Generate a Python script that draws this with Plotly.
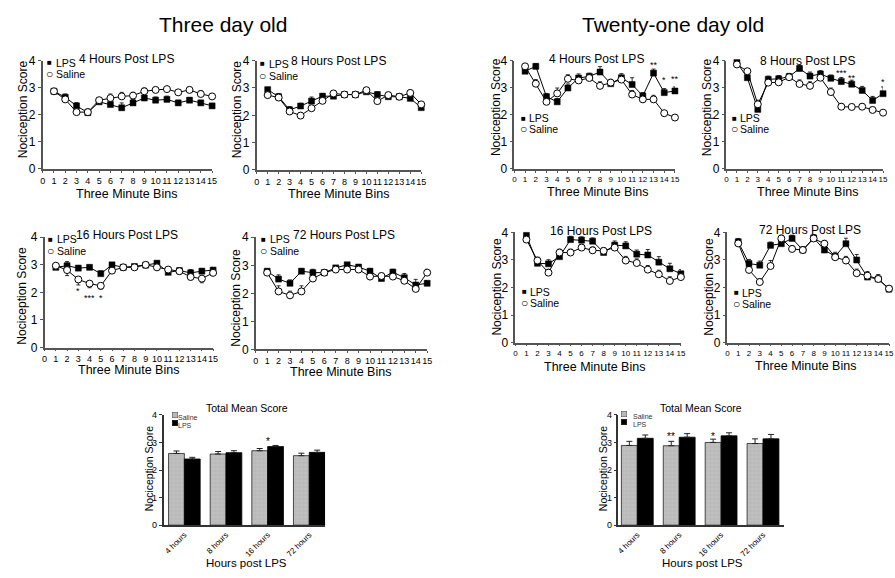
import plotly.graph_objects as go

W, H = 895, 578
FONT = "Liberation Sans, Arial, sans-serif"

bins = list(range(1, 16))

# ---------- Three day old ----------
d3_4h_lps = [2.87, 2.65, 2.33, 2.08, 2.48, 2.38, 2.26, 2.44, 2.62, 2.54, 2.57, 2.44, 2.54, 2.44, 2.33]
d3_4h_sal = [2.87, 2.57, 2.10, 2.10, 2.54, 2.62, 2.68, 2.71, 2.87, 2.92, 2.95, 2.83, 2.92, 2.77, 2.68]
e3_4h_lps = [0.05, 0.12, 0.12, 0.10, 0.08, 0.12, 0.18, 0.12, 0.10, 0.12, 0.12, 0.10, 0.10, 0.10, 0.08]
e3_4h_sal = [0.05, 0.10, 0.10, 0.12, 0.10, 0.15, 0.15, 0.12, 0.12, 0.10, 0.08, 0.10, 0.10, 0.12, 0.10]

d3_8h_lps = [2.94, 2.68, 2.20, 2.34, 2.52, 2.70, 2.70, 2.76, 2.76, 2.86, 2.76, 2.68, 2.68, 2.62, 2.28]
d3_8h_sal = [2.74, 2.65, 2.14, 1.99, 2.26, 2.53, 2.80, 2.76, 2.76, 2.92, 2.52, 2.74, 2.68, 2.82, 2.40]
e3_8h_lps = [0.08, 0.12, 0.12, 0.10, 0.15, 0.10, 0.10, 0.08, 0.08, 0.08, 0.10, 0.10, 0.10, 0.10, 0.10]
e3_8h_sal = [0.08, 0.10, 0.10, 0.10, 0.10, 0.10, 0.08, 0.08, 0.08, 0.08, 0.10, 0.10, 0.10, 0.10, 0.10]

d3_16h_lps = [2.91, 2.97, 2.88, 2.91, 2.68, 3.00, 2.91, 2.94, 2.99, 3.06, 2.73, 2.79, 2.71, 2.77, 2.81]
d3_16h_sal = [2.97, 2.81, 2.47, 2.32, 2.24, 2.79, 2.91, 2.91, 3.00, 2.91, 2.83, 2.77, 2.56, 2.50, 2.71]
e3_16h_lps = [0.08, 0.15, 0.10, 0.08, 0.10, 0.08, 0.08, 0.08, 0.08, 0.08, 0.10, 0.10, 0.12, 0.10, 0.10]
e3_16h_sal = [0.08, 0.20, 0.20, 0.15, 0.12, 0.10, 0.08, 0.08, 0.08, 0.08, 0.10, 0.10, 0.10, 0.15, 0.10]

d3_72h_lps = [2.79, 2.51, 2.36, 2.79, 2.74, 2.74, 2.91, 3.02, 2.94, 2.79, 2.53, 2.76, 2.56, 2.30, 2.36]
d3_72h_sal = [2.74, 2.07, 1.93, 2.07, 2.53, 2.74, 2.85, 2.85, 2.85, 2.60, 2.62, 2.60, 2.45, 2.16, 2.74]
e3_72h_lps = [0.08, 0.15, 0.12, 0.10, 0.12, 0.10, 0.08, 0.08, 0.08, 0.10, 0.10, 0.10, 0.15, 0.20, 0.10]
e3_72h_sal = [0.08, 0.20, 0.15, 0.20, 0.12, 0.10, 0.08, 0.08, 0.08, 0.10, 0.10, 0.10, 0.10, 0.10, 0.12]

# ---------- Twenty-one day old ----------
d21_4h_lps = [3.61, 3.79, 2.67, 2.48, 2.99, 3.36, 3.42, 3.58, 3.15, 3.37, 3.12, 2.70, 3.54, 2.82, 2.88]
d21_4h_sal = [3.79, 3.15, 2.48, 2.79, 3.33, 3.27, 3.36, 3.07, 3.19, 3.30, 2.75, 2.57, 2.57, 2.06, 1.90]
e21_4h_lps = [0.10, 0.10, 0.12, 0.12, 0.15, 0.15, 0.12, 0.20, 0.12, 0.15, 0.25, 0.12, 0.15, 0.15, 0.15]
e21_4h_sal = [0.08, 0.15, 0.15, 0.20, 0.15, 0.12, 0.12, 0.15, 0.12, 0.12, 0.15, 0.12, 0.15, 0.10, 0.10]

d21_8h_lps = [3.93, 3.37, 2.20, 3.31, 3.33, 3.41, 3.71, 3.43, 3.51, 3.35, 3.23, 3.13, 2.90, 2.53, 2.78]
d21_8h_sal = [3.86, 3.61, 2.39, 3.19, 3.20, 3.39, 3.14, 3.07, 3.37, 2.84, 2.30, 2.29, 2.30, 2.18, 2.08]
e21_8h_lps = [0.08, 0.12, 0.12, 0.12, 0.12, 0.12, 0.12, 0.15, 0.12, 0.12, 0.15, 0.15, 0.15, 0.15, 0.25]
e21_8h_sal = [0.08, 0.10, 0.15, 0.12, 0.12, 0.12, 0.15, 0.15, 0.12, 0.15, 0.12, 0.10, 0.10, 0.10, 0.08]

d21_16h_lps = [3.89, 2.88, 2.86, 3.12, 3.74, 3.72, 3.68, 3.27, 3.54, 3.51, 3.21, 3.18, 2.92, 2.68, 2.50]
d21_16h_sal = [3.74, 2.98, 2.54, 3.27, 3.27, 3.45, 3.35, 3.33, 3.45, 2.98, 2.89, 2.65, 2.48, 2.24, 2.38]
e21_16h_lps = [0.08, 0.15, 0.15, 0.12, 0.12, 0.12, 0.12, 0.12, 0.15, 0.15, 0.15, 0.20, 0.20, 0.20, 0.15]
e21_16h_sal = [0.08, 0.12, 0.12, 0.12, 0.12, 0.12, 0.12, 0.12, 0.12, 0.15, 0.15, 0.15, 0.15, 0.15, 0.12]

d21_72h_lps = [3.66, 2.87, 2.81, 3.53, 3.59, 3.78, 3.36, 3.80, 3.36, 3.13, 3.59, 3.00, 2.38, 2.31, 1.94]
d21_72h_sal = [3.60, 2.64, 2.20, 2.78, 3.78, 3.40, 3.36, 3.78, 3.59, 3.10, 2.98, 2.52, 2.43, 2.31, 1.96]
e21_72h_lps = [0.12, 0.15, 0.15, 0.12, 0.12, 0.12, 0.12, 0.12, 0.15, 0.15, 0.20, 0.20, 0.15, 0.15, 0.10]
e21_72h_sal = [0.10, 0.12, 0.12, 0.20, 0.12, 0.12, 0.12, 0.12, 0.12, 0.12, 0.15, 0.15, 0.15, 0.15, 0.10]

# ---------- Total mean score bars ----------
bar_cats = ["4 hours", "8 hours", "16 hours", "72 hours"]
d3_bar_sal = [2.60, 2.58, 2.70, 2.52]
d3_bar_sal_err = [0.09, 0.09, 0.08, 0.09]
d3_bar_lps = [2.40, 2.63, 2.85, 2.64]
d3_bar_lps_err = [0.06, 0.07, 0.04, 0.08]
d21_bar_sal = [2.89, 2.88, 3.00, 2.96]
d21_bar_sal_err = [0.15, 0.16, 0.12, 0.17]
d21_bar_lps = [3.15, 3.19, 3.24, 3.13]
d21_bar_lps_err = [0.12, 0.13, 0.11, 0.16]

# ---------- layout helpers (pixel -> paper) ----------
def px(x):
    return x / W

def py(y):
    return 1 - y / H

panels = [
    dict(title="4 Hours Post LPS", lps=d3_4h_lps, sal=d3_4h_sal, el=e3_4h_lps, es=e3_4h_sal, sal_down=False,
         box=(40, 211, 55, 166), t=(125, 53), xt=(125, 192), yt=(21, 105), leg=(47, 57, 69), tf=9),
    dict(title="8 Hours Post LPS", lps=d3_8h_lps, sal=d3_8h_sal, el=e3_8h_lps, es=e3_8h_sal, sal_down=False,
         box=(256, 422, 55, 167), t=(339, 55), xt=(339, 192), yt=(237, 105), leg=(262, 58, 71), tf=9),
    dict(title="16 Hours Post LPS", lps=d3_16h_lps, sal=d3_16h_sal, el=e3_16h_lps, es=e3_16h_sal, sal_down=True,
         box=(42, 212, 236, 349), t=(125, 234), xt=(127, 372), yt=(19, 296), leg=(48, 238, 250), tf=9),
    dict(title="72 Hours Post LPS", lps=d3_72h_lps, sal=d3_72h_sal, el=e3_72h_lps, es=e3_72h_sal, sal_down=False,
         box=(255, 428, 236, 351), t=(344, 234), xt=(341, 374), yt=(235, 298), leg=(263, 238, 250), tf=9),
    dict(title="4 Hours Post LPS", lps=d21_4h_lps, sal=d21_4h_sal, el=e21_4h_lps, es=e21_4h_sal, sal_down=False,
         box=(516, 678, 55, 166), t=(599, 53), xt=(600, 190), yt=(497, 103), leg=(525, 114, 125), tf=8),
    dict(title="8 Hours Post LPS", lps=d21_8h_lps, sal=d21_8h_sal, el=e21_8h_lps, es=e21_8h_sal, sal_down=False,
         box=(730, 888, 55, 166), t=(812, 55), xt=(812, 190), yt=(710, 103), leg=(738, 114, 125), tf=8),
    dict(title="16 Hours Post LPS", lps=d21_16h_lps, sal=d21_16h_sal, el=e21_16h_lps, es=e21_16h_sal, sal_down=False,
         box=(517, 684, 231, 344), t=(603, 230), xt=(597, 369), yt=(498, 287), leg=(526, 292, 303), tf=8),
    dict(title="72 Hours Post LPS", lps=d21_72h_lps, sal=d21_72h_sal, el=e21_72h_lps, es=e21_72h_sal, sal_down=False,
         box=(731, 894, 231, 344), t=(814, 229), xt=(810, 368), yt=(712, 287), leg=(740, 293, 304), tf=8),
]

fig = go.Figure()
layout = dict(
    width=W, height=H, margin=dict(l=0, r=0, t=0, b=0),
    paper_bgcolor="white", plot_bgcolor="white", showlegend=False,
    font=dict(family=FONT, color="black"),
    barmode="group", bargap=0.24, bargroupgap=0.0,
)
annotations = []

def ann(text, x, y, size, xanchor="center", textangle=0, color="black", pad=1):
    annotations.append(dict(text=text, x=px(x), y=py(y), xref="paper", yref="paper",
                            showarrow=False, xanchor=xanchor, yanchor="middle", borderpad=pad,
                            textangle=textangle, font=dict(size=size, color=color, family=FONT)))

AX = "#555555"

for i, p in enumerate(panels):
    k = i + 1
    xs = "x" if k == 1 else f"x{k}"
    ys = "y" if k == 1 else f"y{k}"
    x0, x1, y0, y1 = p["box"]
    layout[f"xaxis{'' if k == 1 else k}"] = dict(
        domain=[px(x0), px(x1)], range=[0, 15], tickvals=list(range(16)), anchor=ys,
        showline=True, linecolor=AX, linewidth=1.5, ticks="outside", ticklen=2, tickcolor=AX,
        tickangle=0, tickfont=dict(size=p["tf"], color="black"), showgrid=False, zeroline=False,
        fixedrange=True)
    layout[f"yaxis{'' if k == 1 else k}"] = dict(
        domain=[py(y1), py(y0)], range=[0, 4], tickvals=[0, 1, 2, 3, 4], anchor=xs,
        showline=True, linecolor=AX, linewidth=1.5, ticks="outside", ticklen=3, tickcolor=AX,
        tickfont=dict(size=12, color="black"), showgrid=False, zeroline=False, fixedrange=True)

    for vals in (p["lps"], p["sal"]):
        fig.add_trace(go.Scatter(x=bins, y=vals, mode="lines", xaxis=xs, yaxis=ys,
                                 line=dict(color="black", width=1), cliponaxis=False, hoverinfo="skip"))
    fig.add_trace(go.Scatter(
        x=bins, y=p["lps"], mode="markers", xaxis=xs, yaxis=ys, cliponaxis=False,
        marker=dict(symbol="square", size=6, color="black", line=dict(color="black", width=0.5)),
        error_y=dict(type="data", symmetric=False, array=p["el"], arrayminus=[0] * 15,
                     color="black", thickness=0.8, width=2)))
    if p["sal_down"]:
        err_s = dict(type="data", symmetric=False, array=[0] * 15, arrayminus=p["es"],
                     color="black", thickness=0.8, width=2)
    else:
        err_s = dict(type="data", symmetric=False, array=p["es"], arrayminus=[0] * 15,
                     color="black", thickness=0.8, width=2)
    fig.add_trace(go.Scatter(
        x=bins, y=p["sal"], mode="markers", xaxis=xs, yaxis=ys, cliponaxis=False,
        marker=dict(symbol="circle", size=7, color="white", line=dict(color="black", width=1)),
        error_y=err_s))

    ann(p["title"], p["t"][0], p["t"][1], 12)
    ann("Three Minute Bins", p["xt"][0], p["xt"][1], 12.5, pad=0)
    ann("Nociception Score", p["yt"][0], p["yt"][1], 12, textangle=-90)
    lx, ly1, ly2 = p["leg"]
    ann("■", lx, ly1, 8, pad=0)
    ann("LPS", lx + 5, ly1, 10.5, xanchor="left", pad=0)
    ann("○", lx, ly2, 12, pad=0)
    ann("Saline", lx + 5, ly2, 10.5, xanchor="left", pad=0)

# significance stars on line panels (axis coordinates)
stars = [
    (3, "*", 3, 2.05), (3, "***", 4, 1.8), (3, "*", 5, 1.8),
    (5, "**", 13, 3.85), (5, "*", 14, 3.28), (5, "**", 15, 3.32),
    (6, "***", 11, 3.55), (6, "**", 12, 3.35), (6, "*", 15, 3.22),
]
for k, s, xv, yv in stars:
    annotations.append(dict(text=s, x=xv, y=yv, xref=f"x{k}", yref=f"y{k}", showarrow=False,
                            font=dict(size=9, family=FONT), yanchor="middle"))

# ---------- bar charts ----------
bars = [
    dict(k=9, sal=d3_bar_sal, se=d3_bar_sal_err, lps=d3_bar_lps, le=d3_bar_lps_err,
         box=(162, 325, 418, 531), xr=[-0.5, 3.38], t=(246, 411), xt=(246, 570), yt=(147, 473),
         leg=(171, 421, 429)),
    dict(k=10, sal=d21_bar_sal, se=d21_bar_sal_err, lps=d21_bar_lps, le=d21_bar_lps_err,
         box=(621, 788, 418, 531), xr=[-0.45, 3.5], t=(704, 411), xt=(706, 570), yt=(605, 473),
         leg=(630, 420, 428)),
]
for b in bars:
    k = b["k"]
    x0, x1, y0, y1 = b["box"]
    layout[f"xaxis{k}"] = dict(
        domain=[px(x0), px(x1)], type="category", range=b["xr"], anchor=f"y{k}",
        showline=True, linecolor="#333", linewidth=1.5, ticks="", tickangle=-45,
        tickfont=dict(size=8, color="black"), showgrid=False, zeroline=False, fixedrange=True)
    layout[f"yaxis{k}"] = dict(
        domain=[py(y1), py(y0)], range=[0, 4], tickvals=[0, 1, 2, 3, 4], anchor=f"x{k}",
        showline=True, linecolor="#333", linewidth=1.5, ticks="outside", ticklen=3, tickcolor="#333",
        tickfont=dict(size=9, color="black"), showgrid=False, zeroline=False, fixedrange=True)
    fig.add_trace(go.Bar(
        x=bar_cats, y=b["sal"], xaxis=f"x{k}", yaxis=f"y{k}", name="Saline",
        marker=dict(color="#b8b8b8", line=dict(color="#222", width=0.8),
                    pattern=dict(shape="+", fgcolor="#e2e2e2", bgcolor="#b8b8b8", size=4, solidity=0.2)),
        error_y=dict(type="data", symmetric=False, array=b["se"], arrayminus=[0] * 4,
                     color="#222", thickness=1, width=3)))
    fig.add_trace(go.Bar(
        x=bar_cats, y=b["lps"], xaxis=f"x{k}", yaxis=f"y{k}", name="LPS",
        marker=dict(color="black", line=dict(color="black", width=0.8)),
        error_y=dict(type="data", symmetric=False, array=b["le"], arrayminus=[0] * 4,
                     color="#222", thickness=1, width=3)))
    ann("Total Mean Score", b["t"][0], b["t"][1], 10.5)
    ann("Hours post LPS", b["xt"][0], b["xt"][1], 11.5, pad=0)
    ann("Nociception Score", b["yt"][0], b["yt"][1], 10.5, textangle=-90)
    lx, ly1, ly2 = b["leg"]
    annotations.append(dict(text="", x=px(lx), y=py(ly1), xref="paper", yref="paper", showarrow=False,
                            width=5, height=5, bgcolor="#b8b8b8", bordercolor="#444", borderwidth=0.5,
                            borderpad=0))
    annotations.append(dict(text="", x=px(lx), y=py(ly2), xref="paper", yref="paper", showarrow=False,
                            width=5, height=5, bgcolor="black", bordercolor="black", borderwidth=0.5,
                            borderpad=0))
    ann("Saline", lx + 5, ly1, 7, xanchor="left", color="#333", pad=0)
    ann("LPS", lx + 5, ly2, 7, xanchor="left", color="#333", pad=0)

annotations.append(dict(text="*", x=2, y=3.05, xref="x9", yref="y9", showarrow=False,
                        font=dict(size=10, family=FONT)))
annotations.append(dict(text="**", x=0.81, y=3.22, xref="x10", yref="y10", showarrow=False,
                        font=dict(size=10, family=FONT)))
annotations.append(dict(text="*", x=1.81, y=3.22, xref="x10", yref="y10", showarrow=False,
                        font=dict(size=10, family=FONT)))

# main headings
ann("Three day old", 222, 18, 21)
ann("Twenty-one day old", 676, 18, 21)

layout["annotations"] = annotations
fig.update_layout(**layout)
fig.write_html("out.html")
